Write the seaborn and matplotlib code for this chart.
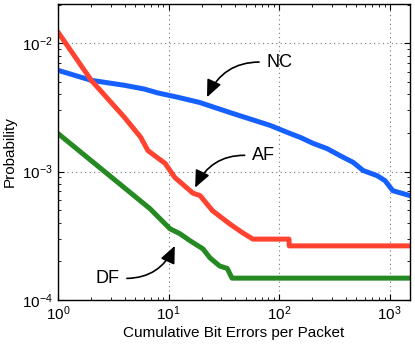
import numpy as np
import pandas as pd
import matplotlib
matplotlib.use('Agg')
import matplotlib.pyplot as plt
import seaborn as sns

# values (log-log)
nc_x = [1, 2, 4, 6, 8, 12, 19, 38, 83, 126, 155, 203, 272, 357, 468, 576, 771, 910, 1070, 1530]
nc_y = [0.00615, 0.00514, 0.0047, 0.0044, 0.0041, 0.0038, 0.00346, 0.00284, 0.00229, 0.00198, 0.00185,
        0.00166, 0.00151, 0.00133, 0.00118, 0.00102, 0.00093, 0.00085, 0.00071, 0.00065]

af_x = [1, 2, 4, 5.6, 6.5, 7.5, 9.3, 11.4, 16.6, 19.3, 25, 36, 47, 58, 123, 123.5, 1530]
af_y = [0.0122, 0.00514, 0.00264, 0.00185, 0.00146, 0.00133, 0.00116, 0.00090, 0.00068, 0.00065,
        0.000496, 0.00039, 0.000333, 0.000298, 0.000298, 0.000264, 0.000264]

df_x = [1, 6.8, 10.3, 12.7, 15.6, 20.5, 23.7, 29, 34, 37.5, 1530]
df_y = [0.00198, 0.000514, 0.000359, 0.000328, 0.00029, 0.00025, 0.000213, 0.000184, 0.000176,
        0.000148, 0.000148]

series = ['NC', 'AF', 'DF']
colors = {'NC': '#1560ff', 'AF': '#ff4330', 'DF': '#258a22'}

df = pd.concat([pd.DataFrame({'x': nc_x, 'y': nc_y, 'scheme': 'NC'}),
                pd.DataFrame({'x': af_x, 'y': af_y, 'scheme': 'AF'}),
                pd.DataFrame({'x': df_x, 'y': df_y, 'scheme': 'DF'})], ignore_index=True)

sns.set_style('ticks')
plt.rcParams['font.family'] = ['Liberation Sans', 'DejaVu Sans']
plt.rcParams['mathtext.default'] = 'regular'
for k in ['text.color', 'axes.labelcolor', 'xtick.color', 'ytick.color']:
    plt.rcParams[k] = 'black'

fig = plt.figure(figsize=(4.15, 3.44), dpi=100)
ax = fig.add_axes([58 / 415, 1 - 300 / 344, 352 / 415, 296 / 344])

sns.lineplot(data=df, x='x', y='y', hue='scheme', palette=colors, hue_order=series,
             lw=3.6, legend=False, sort=False, ax=ax, estimator=None)

ax.set_xscale('log')
ax.set_yscale('log')
ax.set_xlim(1, 1530)
ax.set_ylim(1e-4, 2.02e-2)
ax.grid(True, which='major', ls=(0, (1, 3)), color='#777777', lw=0.8)
ax.tick_params(which='both', direction='in', top=True, right=True, labelsize=11, length=4)
ax.tick_params(which='minor', length=2.5)
ax.set_xlabel('Cumulative Bit Errors per Packet', fontsize=11, labelpad=2)
ax.set_ylabel('Probability', fontsize=11)
for s in ax.spines.values():
    s.set_linewidth(1.0)
    s.set_color('black')

# curved arrow labels
arrow = dict(arrowstyle='-|>,head_length=0.8,head_width=0.35', color='black', lw=1.2,
             shrinkA=3, shrinkB=0, mutation_scale=13)
ax.annotate('NC', xy=(22.3, 0.0038), xytext=(77, 0.0071), fontsize=13, va='center', ha='left',
            arrowprops=dict(arrow, relpos=(0, 0.5), connectionstyle='arc3,rad=0.35'))
ax.annotate('AF', xy=(17.4, 0.00075), xytext=(57, 0.00133), fontsize=13, va='center', ha='left',
            arrowprops=dict(arrow, relpos=(0, 0.5), connectionstyle='arc3,rad=0.35'))
ax.annotate('DF', xy=(11.4, 0.000264), xytext=(3.6, 0.000148), fontsize=13, va='center', ha='right',
            arrowprops=dict(arrow, relpos=(1, 0.5), connectionstyle='arc3,rad=0.35'))

fig.savefig('out.png', dpi=100)
